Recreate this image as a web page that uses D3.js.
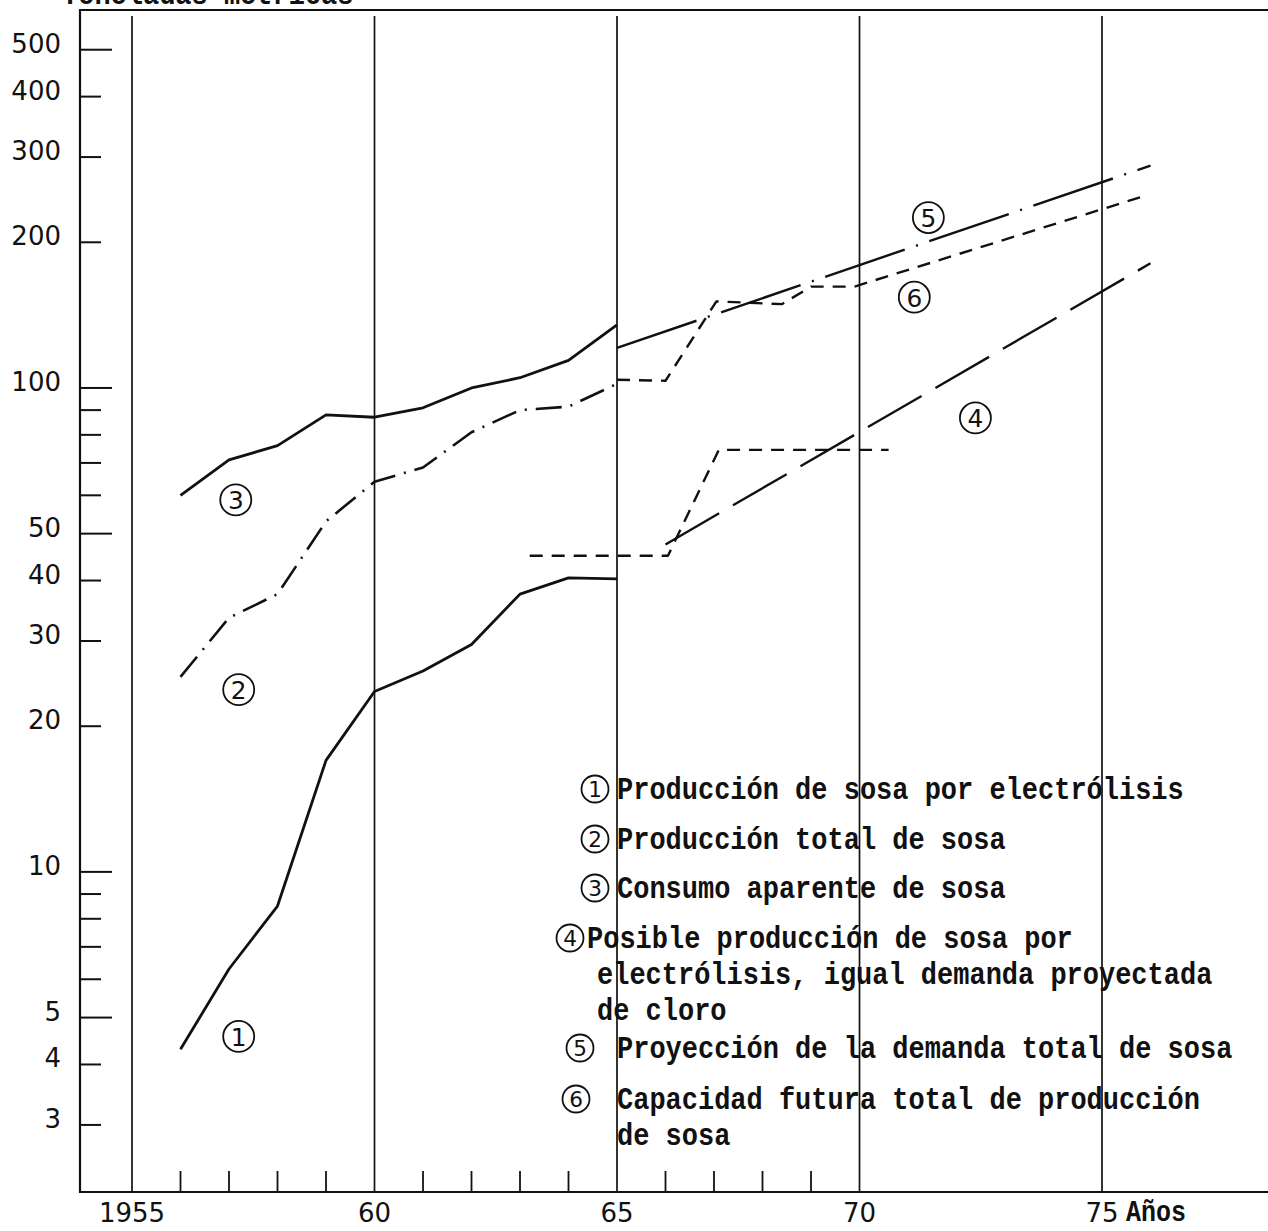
<!DOCTYPE html>
<html>
<head>
<meta charset="utf-8">
<script src="https://cdn.jsdelivr.net/npm/d3@7"></script>
<style>
  body { margin: 0; background: #fff; }
  svg { display: block; }
</style>
</head>
<body>
<svg id="chart" width="1268" height="1231"></svg>
<script>
// Historical series, 1956-1965
const years = [1956, 1957, 1958, 1959, 1960, 1961, 1962, 1963, 1964, 1965];
const produccionElectrolisis = [4.3, 6.3, 8.5, 17, 23.6, 26, 29.5, 37.5, 40.5, 40.3];
const produccionTotal = [25.3, 33.5, 37.5, 53, 64, 68.5, 81, 90, 91.5, 102];
const consumoAparente = [60, 71, 76, 88, 87, 91, 100, 105, 114, 135];

// Projections
const demandaYears = [1965, 1976];
const demandaTotal = [121, 288];
const posibleYears = [1966, 1976];
const posibleElectrolisis = [47.5, 181];
const capacidadYears = [1965, 1966, 1967.05, 1968.4, 1969, 1969.9, 1975.8];
const capacidadFutura = [104, 103.5, 151, 149, 162, 162, 248];
const capElecYears = [1963.2, 1966.05, 1967.1, 1970.6];
const capacidadElectrolisis = [45, 45, 74.5, 74.5];

// Axes
const gridYears = [1955, 1960, 1965, 1970, 1975];
const gridLabels = ["1955", "60", "65", "70", "75"];
const minorYears = [1956, 1957, 1958, 1959, 1961, 1962, 1963, 1964, 1966, 1967, 1968, 1969];
const labelledTicks = [500, 400, 300, 200, 100, 50, 40, 30, 20, 10, 5, 4, 3];
const plainTicks = [90, 80, 70, 60, 9, 8, 7, 6];
const longTicks = [500, 100, 50, 10, 5];

const legendItems = [
  { n: "1", lines: ["Producción de sosa por electrólisis"] },
  { n: "2", lines: ["Producción total de sosa"] },
  { n: "3", lines: ["Consumo aparente de sosa"] },
  { n: "4", lines: ["Posible producción de sosa por", "electrólisis, igual demanda proyectada", "de cloro"] },
  { n: "5", lines: ["Proyección de la demanda total de sosa"] },
  { n: "6", lines: ["Capacidad futura total de producción", "de sosa"] }
];

const svg = d3.select("#chart");
const ink = "#111";
const frameLeft = 80, frameTop = 10, frameBottom = 1192, frameRight = 1268;

const x = d3.scaleLinear().domain([1955, 1975]).range([132, 1102]);
const y = d3.scaleLog().domain([2.17, 604]).range([1193, 10]);

const handFont = "'DejaVu Sans', sans-serif";
const typeFont = "'Liberation Mono', 'DejaVu Sans Mono', monospace";

// Typewritten text, slightly stretched vertically
function typed(g, tx, ty, str, size) {
  return g.append("text")
    .attr("transform", `translate(${tx},${ty}) scale(1,1.15)`)
    .attr("font-family", typeFont).attr("font-weight", "bold")
    .attr("font-size", size).attr("fill", ink).text(str);
}

// Frame: top rule, left axis, bottom axis
svg.append("path")
  .attr("d", `M${frameRight},${frameTop}H${frameLeft}V${frameBottom}H${frameRight}`)
  .attr("fill", "none").attr("stroke", ink).attr("stroke-width", 2.2);

// Vertical year rules every five years
svg.append("g").selectAll("line").data(gridYears).join("line")
  .attr("x1", d => x(d)).attr("x2", d => x(d))
  .attr("y1", 16).attr("y2", frameBottom)
  .attr("stroke", ink).attr("stroke-width", 1.7);

// Yearly ticks on the time axis
svg.append("g").selectAll("line").data(minorYears).join("line")
  .attr("x1", d => x(d)).attr("x2", d => x(d))
  .attr("y1", frameBottom - 21).attr("y2", frameBottom)
  .attr("stroke", ink).attr("stroke-width", 1.8);

// Year labels
svg.append("g").selectAll("text").data(gridYears).join("text")
  .attr("x", d => x(d)).attr("y", 1222)
  .attr("text-anchor", "middle")
  .attr("font-family", handFont).attr("font-size", 26)
  .attr("fill", ink)
  .text((d, i) => gridLabels[i]);
typed(svg, x(1975) + 24, 1221, "Años", 25);

// Logarithmic value axis ticks
const allTicks = labelledTicks.concat(plainTicks);
svg.append("g").selectAll("line").data(allTicks).join("line")
  .attr("x1", frameLeft).attr("x2", d => frameLeft + (longTicks.includes(d) ? 32 : 21))
  .attr("y1", d => y(d)).attr("y2", d => y(d))
  .attr("stroke", ink).attr("stroke-width", 2);
svg.append("g").selectAll("text").data(labelledTicks).join("text")
  .attr("x", 61).attr("y", d => y(d) + 3)
  .attr("text-anchor", "end")
  .attr("font-family", handFont).attr("font-size", 26)
  .attr("fill", ink)
  .text(d => d);

// Unit caption at the very top edge
typed(svg, 62, 4, "Toneladas métricas", 27);

// Series lines
const line = d3.line().x(d => x(d[0])).y(d => y(d[1]));
const zipYV = (ys, vs) => ys.map((yr, i) => [yr, vs[i]]);

const series = [
  { pts: zipYV(years, produccionElectrolisis), dash: null, w: 2.8 },
  { pts: zipYV(years, produccionTotal), dash: "26,9,2,9", w: 2.6 },
  { pts: zipYV(years, consumoAparente), dash: null, w: 2.8 },
  { pts: zipYV(posibleYears, posibleElectrolisis), dash: "62,16", w: 2.4 },
  { pts: zipYV(demandaYears, demandaTotal), dash: "84,12,2,12", w: 2.4 },
  { pts: zipYV(capacidadYears, capacidadFutura), dash: "13,9", w: 2.4 },
  { pts: zipYV(capElecYears, capacidadElectrolisis), dash: "13,9", w: 2.4 }
];
svg.append("g").selectAll("path").data(series).join("path")
  .attr("d", d => line(d.pts))
  .attr("fill", "none").attr("stroke", ink)
  .attr("stroke-width", d => d.w)
  .attr("stroke-dasharray", d => d.dash)
  .attr("stroke-linejoin", "round");

// Circled series numbers
function circled(g, cx, cy, r, n) {
  g.append("circle").attr("cx", cx).attr("cy", cy).attr("r", r)
    .attr("fill", "none").attr("stroke", ink).attr("stroke-width", 1.8);
  g.append("text").attr("x", cx).attr("y", cy + r * 0.6)
    .attr("text-anchor", "middle")
    .attr("font-family", handFont).attr("font-size", r * 1.6)
    .attr("fill", ink).text(n);
}

// Labels beside the lines (placed in data coordinates)
const tags = svg.append("g");
[
  ["3", 1957.14, 58.7], ["2", 1957.2, 23.8], ["1", 1957.2, 4.57],
  ["5", 1971.42, 225], ["6", 1971.13, 154], ["4", 1972.39, 86.7]
].forEach(([n, yr, v]) => circled(tags, x(yr), y(v), 15.5, n));

// Legend
const legend = svg.append("g");
const legendRows = [
  { cx: 595, base: 799, tx: 617, cont: 617 },
  { cx: 595, base: 849, tx: 617, cont: 617 },
  { cx: 595, base: 898, tx: 617, cont: 617 },
  { cx: 570, base: 948, tx: 587, cont: 597 },
  { cx: 580, base: 1058, tx: 617, cont: 617 },
  { cx: 576, base: 1109, tx: 617, cont: 617 }
];
const lineGap = 36;
legendItems.forEach((item, i) => {
  const row = legendRows[i];
  circled(legend, row.cx, row.base - 10, 13.5, item.n);
  item.lines.forEach((txt, j) => {
    typed(legend, j === 0 ? row.tx : row.cont, row.base + j * lineGap, txt, 27);
  });
});
</script>
</body>
</html>
